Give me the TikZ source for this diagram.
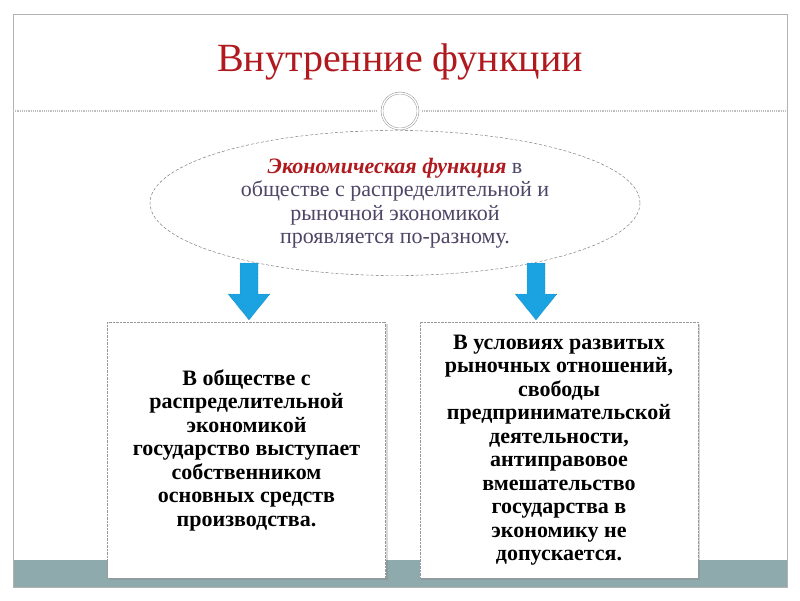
\documentclass[tikz,border=0pt]{standalone}
\usepackage{fontspec}
\setmainfont{Liberation Serif}
\usetikzlibrary{shapes.geometric,shadows}
\definecolor{titlered}{HTML}{B0191E}
\definecolor{ellipsetext}{HTML}{4F4566}
\definecolor{band}{HTML}{8FAAAC}
\definecolor{arrowblue}{HTML}{1AA3E0}
\tikzset{
  box/.style={draw=gray!80,densely dotted,fill=white,minimum width=278pt,minimum height=256pt,align=center,font=\fontsize{22}{23.5}\selectfont\bfseries,drop shadow={shadow xshift=2pt,shadow yshift=-2pt,opacity=0.3}},
  darrow/.style={fill=arrowblue,draw=arrowblue!70!black,densely dotted}
}
\begin{document}
\begin{tikzpicture}[x=1pt,y=-1pt]
\useasboundingbox (0,0) rectangle (800,600);
\fill[white] (0,0) rectangle (800,600);
\fill[band] (13,560) rectangle (787,587);
\draw[gray!60,line width=1pt] (13,14) rectangle (787,587);
\node[font=\fontsize{40}{44}\selectfont,text=titlered] (title) at (400,62) {Внутренние функции};
\draw[gray!50,densely dotted,line width=1.2pt] (13,111) -- (378,111) (422,111) -- (787,111);
\node[circle,draw=gray,double=white,double distance=1.5pt,minimum size=36pt,fill=white] (ring) at (400,111) {};
\node[ellipse,draw=gray!80!black,densely dashed,fill=white,minimum width=490pt,minimum height=145pt,align=center,text=ellipsetext,font=\fontsize{22}{23.5}\selectfont] (ell) at (395,203) {\textcolor{titlered}{\textbf{\textit{Экономическая функция}}} в\\обществе с распределительной и\\рыночной экономикой\\проявляется по-разному.};
\node[box] (left) at (246.5,450) {В обществе с\\распределительной\\экономикой\\государство выступает\\собственником\\основных средств\\производства.};
\node[box] (right) at (559,450) {В условиях развитых\\рыночных отношений,\\свободы\\предпринимательской\\деятельности,\\антиправовое\\вмешательство\\государства в\\экономику не\\допускается.};
\foreach \cx/\nm in {249/la,536/ra}{
  \draw[darrow] (\cx-9,263) -- (\cx+9,263) -- (\cx+9,294) -- (\cx+21,294) -- (\cx,320) -- (\cx-21,294) -- (\cx-9,294) -- cycle;
}
\end{tikzpicture}
\end{document}
